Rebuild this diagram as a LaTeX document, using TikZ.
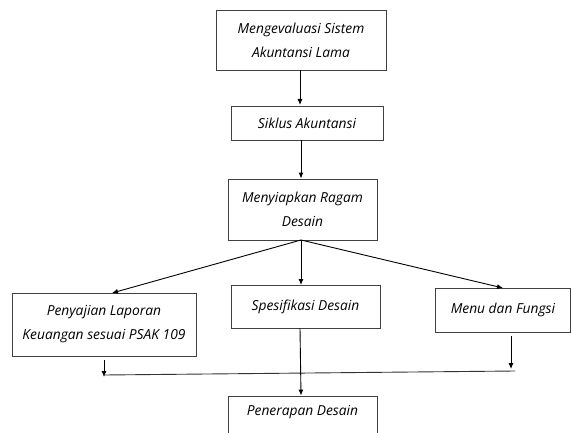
\documentclass[tikz,border=0pt]{standalone}
\usepackage{fontspec}
\setmainfont{Open Sans}
\usetikzlibrary{arrows.meta}
\begin{document}
\begin{tikzpicture}[x=1pt,y=-1pt,
  txt/.style={font=\itshape\fontsize{13.8}{24}\selectfont},
  box/.style={txt,draw=black!75,line width=0.9pt,rectangle,align=center,inner sep=0pt},
  arr/.style={draw=black,line width=0.9pt,-{Latex[length=6pt,width=5pt]}},
  ln/.style={draw=black!80,line width=0.9pt}]
\useasboundingbox (0,0) rectangle (572,433);
\node[box,minimum width=170pt,minimum height=60pt] (a) at (301,40) {Mengevaluasi Sistem\\Akuntansi Lama};
\node[box,minimum width=152pt,minimum height=34pt] (b) at (307,123) {Siklus Akuntansi};
\node[box,minimum width=149pt,minimum height=61pt] (c) at (302.5,209.5) {Menyiapkan Ragam\\Desain};
\node[box,minimum width=184pt,minimum height=63pt] (d) at (104,324.5) {Penyajian Laporan\\Keuangan sesuai PSAK 109};
\node[box,minimum width=149pt,minimum height=43pt] (e) at (305.5,306.5) {Spesifikasi Desain};
\node[box,minimum width=135pt,minimum height=44pt] (f) at (503,310) {Menu dan Fungsi};
\node[box,minimum width=149pt,minimum height=60pt] (g) at (302.5,426) {};
\node[txt] (gt) at (302.5,412) {Penerapan Desain};
\coordinate (cb) at (301,240);
\draw[arr] (a.south -| 300,0) -- (300,105);
\draw[arr] (b.south -| 301,0) -- (c.north -| 301,0);
\draw[arr] (cb) -- (112,293);
\draw[arr] (cb) -- (301,285);
\draw[arr] (cb) -- (503,288);
\coordinate (l1) at (104,360);
\coordinate (l2) at (104,377);
\coordinate (r1) at (511,336);
\coordinate (r2) at (511,369);
\coordinate (hl) at (104,375);
\coordinate (hr) at (515,371);
\draw[arr] (l1) -- (l2);
\draw[arr] (r1) -- (r2);
\draw[ln] (hl) -- (hr);
\draw[arr] (e.south -| 300,0) -- (g.north -| 301,0);
\end{tikzpicture}
\end{document}
